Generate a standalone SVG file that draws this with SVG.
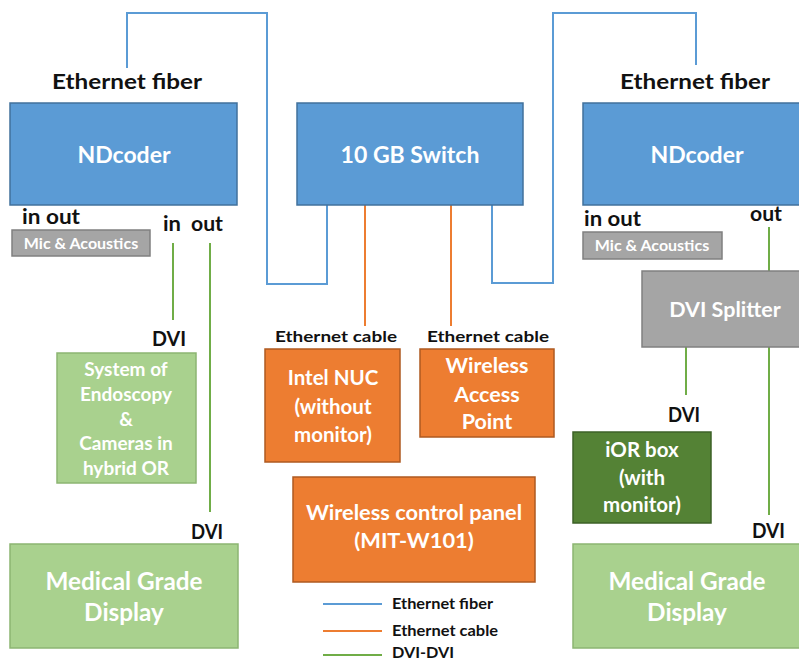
<svg xmlns="http://www.w3.org/2000/svg" width="799" height="661" viewBox="0 0 799 661">
<style>
text{font-family:Lato,"Open Sans","Liberation Sans",sans-serif;font-weight:bold}
.lbl{fill:#111;font-size:20px}
.sm{fill:#111;font-size:15px}
.w{fill:#fff;text-anchor:middle}
.blue{fill:#5B9BD5;stroke:#41719C;stroke-width:1.5}
.orange{fill:#ED7D31;stroke:#AE5A21;stroke-width:1.5}
.lgreen{fill:#A9D18E;stroke:#8CB572;stroke-width:1.5}
.dgreen{fill:#548235;stroke:#3D6127;stroke-width:1.5}
.gray{fill:#A5A5A5;stroke:#808080;stroke-width:1.5}
.fib{stroke:#5B9BD5;stroke-width:2;fill:none}
.cab{stroke:#ED7D31;stroke-width:2;fill:none}
.dvi{stroke:#70AD47;stroke-width:2;fill:none}
</style>
<rect width="799" height="661" fill="#fff"/>
<g id="connectors">
<polyline class="fib" points="127,68 127,13 267,13 267,284 327,284 327,205"/>
<polyline class="fib" points="492,205 492,283 553,283 553,13 696,13 696,65"/>
<line class="cab" x1="365" y1="205" x2="365" y2="326"/>
<line class="cab" x1="451" y1="205" x2="451" y2="326"/>
<line class="dvi" x1="173" y1="243" x2="173" y2="320"/>
<line class="dvi" x1="210" y1="243" x2="210" y2="512"/>
<line class="dvi" x1="769" y1="227" x2="769" y2="271"/>
<line class="dvi" x1="686" y1="347" x2="686" y2="395"/>
<line class="dvi" x1="769" y1="347" x2="769" y2="515"/>
</g>
<g id="labels">
<text class="lbl" x="52" y="89" font-size="22" textLength="150" lengthAdjust="spacingAndGlyphs">Ethernet fiber</text>
<text class="lbl" x="620" y="89" font-size="22" textLength="150" lengthAdjust="spacingAndGlyphs">Ethernet fiber</text>
<text class="lbl" x="22" y="224" font-size="18" textLength="58" lengthAdjust="spacingAndGlyphs">in out</text>
<text class="lbl" x="163" y="231" font-size="18" textLength="18" lengthAdjust="spacingAndGlyphs">in</text>
<text class="lbl" x="191" y="231" font-size="18" textLength="32" lengthAdjust="spacingAndGlyphs">out</text>
<text class="lbl" x="584" y="226" font-size="18" textLength="57" lengthAdjust="spacingAndGlyphs">in out</text>
<text class="lbl" x="750" y="221" font-size="18" textLength="32" lengthAdjust="spacingAndGlyphs">out</text>
<text class="lbl" x="152" y="346" textLength="34" lengthAdjust="spacingAndGlyphs">DVI</text>
<text class="lbl" x="191" y="539" textLength="32" lengthAdjust="spacingAndGlyphs">DVI</text>
<text class="lbl" x="668" y="422" textLength="32" lengthAdjust="spacingAndGlyphs">DVI</text>
<text class="lbl" x="752" y="538" textLength="33" lengthAdjust="spacingAndGlyphs">DVI</text>
<text class="sm" x="275" y="342" font-size="18" textLength="122" lengthAdjust="spacingAndGlyphs">Ethernet cable</text>
<text class="sm" x="427" y="342" font-size="18" textLength="122" lengthAdjust="spacingAndGlyphs">Ethernet cable</text>
</g>
<g id="ndcoder-left">
<rect class="blue" x="10" y="103" width="227" height="102"/>
<text class="w" x="124" y="163" font-size="23">NDcoder</text>
</g>
<g id="switch">
<rect class="blue" x="297" y="103" width="226" height="102"/>
<text class="w" x="410" y="163" font-size="23">10 GB Switch</text>
</g>
<g id="ndcoder-right">
<rect class="blue" x="583" y="103" width="228" height="102"/>
<text class="w" x="697" y="163" font-size="23">NDcoder</text>
</g>
<g id="mic-left">
<rect class="gray" x="12" y="230" width="138" height="26"/>
<text class="w" x="81" y="249" font-size="16" fill="#f2f2f2">Mic &amp; Acoustics</text>
</g>
<g id="mic-right">
<rect class="gray" x="583" y="232" width="139" height="27"/>
<text class="w" x="652" y="251" font-size="16" fill="#f2f2f2">Mic &amp; Acoustics</text>
</g>
<g id="endoscopy">
<rect class="lgreen" x="57" y="353" width="139" height="130"/>
<text class="w" x="126" y="376" font-size="19">System of</text>
<text class="w" x="126" y="401" font-size="19">Endoscopy</text>
<text class="w" x="126" y="426" font-size="19">&amp;</text>
<text class="w" x="126" y="450" font-size="19">Cameras in</text>
<text class="w" x="126" y="475" font-size="19">hybrid OR</text>
</g>
<g id="intel-nuc">
<rect class="orange" x="265" y="349" width="135" height="113"/>
<text class="w" x="333" y="385" font-size="20.5">Intel NUC</text>
<text class="w" x="333" y="414" font-size="20.5">(without</text>
<text class="w" x="333" y="442" font-size="20.5">monitor)</text>
</g>
<g id="wap">
<rect class="orange" x="420" y="349" width="134" height="88"/>
<text class="w" x="487" y="373" font-size="21.5">Wireless</text>
<text class="w" x="487" y="402" font-size="21.5">Access</text>
<text class="w" x="487" y="429" font-size="21.5">Point</text>
</g>
<g id="dvi-splitter">
<rect class="gray" x="642" y="271" width="166" height="76"/>
<text class="w" x="725" y="317" font-size="21.5">DVI Splitter</text>
</g>
<g id="ior-box">
<rect class="dgreen" x="573" y="432" width="138" height="91"/>
<text class="w" x="642" y="457" font-size="20.5">iOR box</text>
<text class="w" x="642" y="485" font-size="20.5">(with</text>
<text class="w" x="642" y="512" font-size="20.5">monitor)</text>
</g>
<g id="wireless-panel">
<rect class="orange" x="293" y="477" width="242" height="105"/>
<text class="w" x="414" y="520" font-size="21.8">Wireless control panel</text>
<text class="w" x="414" y="548" font-size="21.8">(MIT-W101)</text>
</g>
<g id="display-left">
<rect class="lgreen" x="10" y="544" width="228" height="104"/>
<text class="w" x="124" y="590" font-size="24.3">Medical Grade</text>
<text class="w" x="124" y="621" font-size="24.3">Display</text>
</g>
<g id="display-right">
<rect class="lgreen" x="573" y="544" width="230" height="104"/>
<text class="w" x="687" y="590" font-size="24.3">Medical Grade</text>
<text class="w" x="687" y="621" font-size="24.3">Display</text>
</g>
<g id="legend">
<line class="fib" x1="323" y1="604" x2="382" y2="604"/>
<line class="cab" x1="323" y1="631" x2="382" y2="631"/>
<line class="dvi" x1="323" y1="655" x2="382" y2="655"/>
<text class="sm" x="392" y="609" textLength="101" lengthAdjust="spacingAndGlyphs">Ethernet fiber</text>
<text class="sm" x="392" y="636" textLength="106" lengthAdjust="spacingAndGlyphs">Ethernet cable</text>
<text class="sm" x="392" y="658" textLength="62" lengthAdjust="spacingAndGlyphs">DVI-DVI</text>
</g>
</svg>
